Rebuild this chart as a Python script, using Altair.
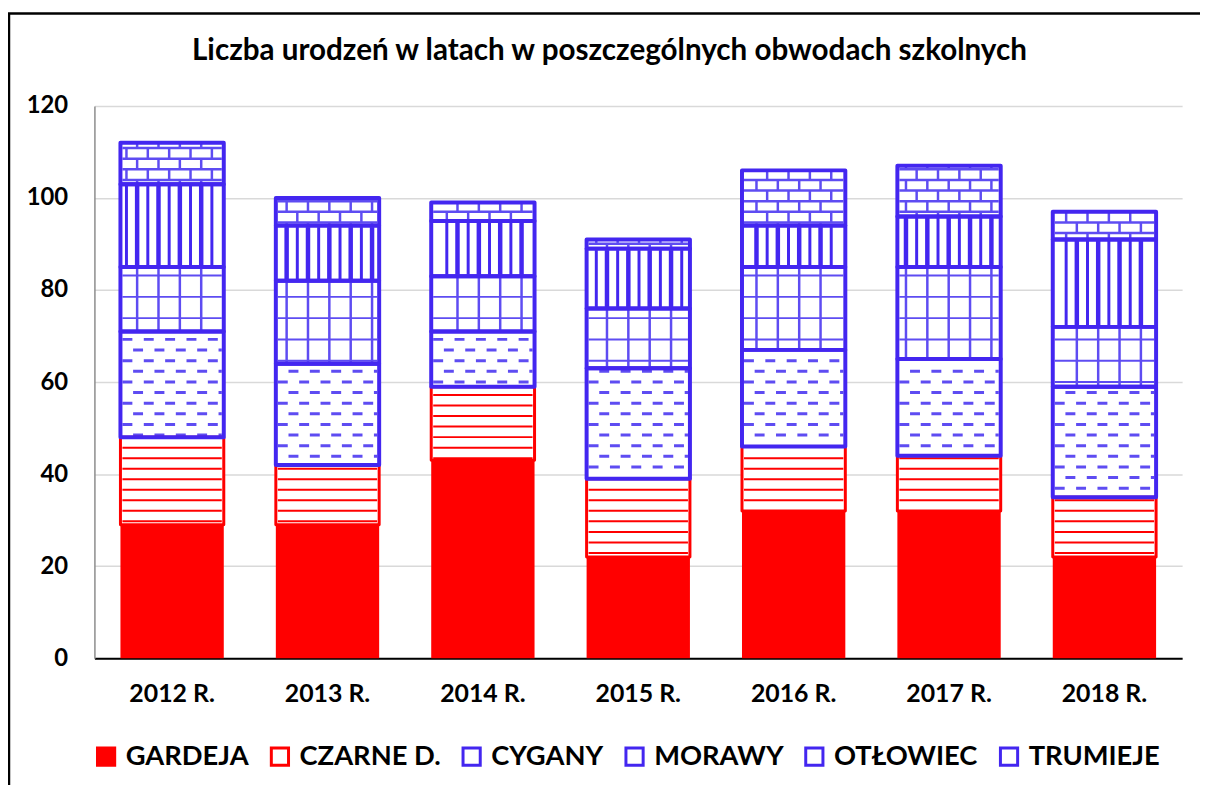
import math
import altair as alt
import pandas as pd

# ---------------- data ----------------
years = ["2012 R.", "2013 R.", "2014 R.", "2015 R.", "2016 R.", "2017 R.", "2018 R."]
districts = ["GARDEJA", "CZARNE D.", "CYGANY", "MORAWY", "OTŁOWIEC", "TRUMIEJE"]
gardeja = [29, 29, 43, 22, 32, 32, 22]
czarne = [19, 13, 16, 17, 14, 12, 13]
cygany = [23, 22, 12, 24, 21, 21, 24]
morawy = [14, 18, 12, 13, 18, 20, 13]
otlowiec = [18, 12, 12, 13, 9, 11, 19]
trumieje = [9, 6, 4, 2, 12, 11, 6]
y_ticks = [0, 20, 40, 60, 80, 100, 120]
title_text = "Liczba urodzeń w latach w poszczególnych obwodach szkolnych"

series = [gardeja, czarne, cygany, morawy, otlowiec, trumieje]

# ---------------- styles ----------------
RED = "#FF0000"
BLUE = "#4326F0"
LBLUE = "#5E4CF2"
FONT = "Lato"
W, H = 1095, 556
PAD_INNER = 0.335
fills = [RED, "#FFFFFF", "#FFFFFF", "#FFFFFF", "#FFFFFF", "#FFFFFF"]
strokes = [RED, RED, BLUE, BLUE, BLUE, BLUE]
outline_w = [0, 3, 4, 4, 4, 4]

# segments table
seg_rows = []
for i, yr in enumerate(years):
    base = 0
    for j, d in enumerate(districts):
        v = series[j][i]
        seg_rows.append(dict(year=yr, idx=i, district=d, start=base, end=base + v,
                             scol=strokes[j], sw=outline_w[j]))
        base += v
seg = pd.DataFrame(seg_rows)

# hatch decoration derived from the segments
step_px = W / 7
pxx = 1 / step_px
pxy = 120 / H
half = (1 - PAD_INNER) / 2

h_rows, d0_rows, d1_rows, v_rows = [], [], [], []


def hlines(y0, y1, sp_px, L, R, col, w, target, parity=None):
    sy = sp_px * pxy
    eps = 2.0 * pxy
    for k in range(int(math.floor(y0 / sy)), int(math.ceil(y1 / sy)) + 1):
        y = k * sy
        if y0 + eps < y < y1 - eps:
            row = dict(x=L, x2=R, y=y, col=col, w=w)
            if parity is None:
                target.append(row)
            else:
                (d0_rows if k % 2 == 0 else d1_rows).append(row)


def vlines(y0, y1, sp_px, L, R, col, widths, shift_px=0.0):
    for k in range(0, int(W / sp_px) + 2):
        x = (k * sp_px + shift_px) * pxx
        if L + 3 * pxx < x < R - 3 * pxx:
            v_rows.append(dict(x=x, y=y0 + 1.5 * pxy, y2=y1 - 1.5 * pxy, col=col,
                               w=widths[k % len(widths)]))


for _, r in seg.iterrows():
    c = r["idx"] + 0.5
    L, R = c - half + 2 * pxx, c + half - 2 * pxx
    y0, y1 = r["start"], r["end"]
    d = r["district"]
    if d == "CZARNE D.":
        hlines(y0, y1, 10.6, L, R, RED, 2, h_rows)
    elif d == "CYGANY":
        hlines(y0, y1, 10.7, L, R, LBLUE, 3, None, parity=True)
    elif d == "MORAWY":
        hlines(y0, y1, 21.4, L, R, LBLUE, 2, h_rows)
        vlines(y0, y1, 21.5, L, R, LBLUE, [2.5])
    elif d == "OTŁOWIEC":
        vlines(y0, y1, 10.75, L, R, BLUE, [4.5, 3])
    elif d == "TRUMIEJE":
        sy = 10.7 * pxy
        hlines(y0, y1, 10.7, L, R, LBLUE, 2.5, h_rows)
        for rr in range(int(math.floor(y0 / sy)), int(math.ceil(y1 / sy)) + 1):
            a, b = max(rr * sy, y0), min((rr + 1) * sy, y1)
            if b - a > 1.0 * pxy:
                for k in range(0, int(W / 21.5) + 2):
                    x = (k * 21.5 + (rr % 2) * 10.75) * pxx
                    if L + 3 * pxx < x < R - 3 * pxx:
                        v_rows.append(dict(x=x, y=a, y2=b, col=LBLUE, w=2.5))

h_df = pd.DataFrame(h_rows)
d0_df = pd.DataFrame(d0_rows)
d1_df = pd.DataFrame(d1_rows)
v_df = pd.DataFrame(v_rows)

# ---------------- chart ----------------
xband = alt.Scale(domain=years, paddingInner=PAD_INNER, paddingOuter=PAD_INNER / 2)
yscale = alt.Scale(domain=[0, 120], nice=False, zero=True)
qx = alt.Scale(domain=[0, 7], nice=False, zero=False)

y_axis = alt.Axis(values=y_ticks, labelFont=FONT, labelFontSize=24, labelFontWeight="bold",
                  labelColor="black", labelPadding=27, ticks=False,
                  domainColor="#8c8c8c", domainWidth=1.5,
                  gridColor="#d9d9d9", gridWidth=1.5)

legend_def = alt.Legend(
    title=None, orient="none", legendX=-2, legendY=H + 85, direction="horizontal",
    labelFont=FONT, labelFontSize=27.5, labelFontWeight="bold", labelColor="black",
    symbolType="square", symbolSize=300, symbolStrokeWidth=3, labelOffset=6,
    columnPadding=16, labelLimit=400,
)

bars = alt.Chart(seg).mark_bar(strokeWidth=0).encode(
    x=alt.X("year:N", scale=xband, sort=years, title=None,
            axis=alt.Axis(labelAngle=0, labelFont=FONT, labelFontSize=25, labelFontWeight="bold",
                          labelColor="black", labelPadding=24, ticks=False,
                          domainColor="black", domainWidth=2)),
    y=alt.Y("start:Q", scale=yscale, title=None, axis=y_axis),
    y2="end:Q",
    fill=alt.Fill("district:N", scale=alt.Scale(domain=districts, range=fills), legend=legend_def),
    stroke=alt.Stroke("district:N", scale=alt.Scale(domain=districts, range=strokes), legend=legend_def),
)


def hrule(df, **mk):
    return alt.Chart(df).mark_rule(**mk).encode(
        x=alt.X("x:Q", scale=qx, axis=None), x2="x2:Q",
        y=alt.Y("y:Q", scale=yscale, title=None, axis=y_axis),
        stroke=alt.Stroke("col:N", scale=None),
        strokeWidth=alt.StrokeWidth("w:Q", scale=None),
    )


hatch_h = hrule(h_df)
hatch_d0 = hrule(d0_df, strokeDash=[10, 11.5], strokeDashOffset=0)
hatch_d1 = hrule(d1_df, strokeDash=[10, 11.5], strokeDashOffset=10.75)
hatch_v = alt.Chart(v_df).mark_rule().encode(
    x=alt.X("x:Q", scale=qx, axis=None),
    y=alt.Y("y:Q", scale=yscale, title=None, axis=y_axis), y2="y2:Q",
    stroke=alt.Stroke("col:N", scale=None),
    strokeWidth=alt.StrokeWidth("w:Q", scale=None),
)

outline = alt.Chart(seg).mark_bar(fillOpacity=0, strokeJoin="round").encode(
    x=alt.X("year:N", scale=xband, sort=years, axis=None),
    y=alt.Y("start:Q", scale=yscale, title=None, axis=y_axis),
    y2="end:Q",
    stroke=alt.Stroke("scol:N", scale=None),
    strokeWidth=alt.StrokeWidth("sw:Q", scale=None),
)

frame_df = pd.DataFrame({"label": [title_text]})
frame_left = alt.Chart(frame_df).mark_rule(color="black", strokeWidth=2.5).encode(
    x=alt.value(-86), y=alt.value(-93), y2=alt.value(720))
frame_top = alt.Chart(frame_df).mark_rule(color="black", strokeWidth=2.5).encode(
    x=alt.value(-87), x2=alt.value(1200), y=alt.value(-93))
title_mark = alt.Chart(frame_df).mark_text(
    font=FONT, fontSize=29.8, fontWeight="bold", color="black", align="center", baseline="middle"
).encode(x=alt.value(518.5), y=alt.value(-55), text="label:N")

chart = alt.layer(
    bars, hatch_h, hatch_d0, hatch_d1, hatch_v, outline, frame_left, frame_top, title_mark
).resolve_scale(x="independent").properties(
    width=W, height=H,
    background="white",
    autosize=alt.AutoSizeParams(type="none"),
    padding={"left": 87, "top": 96, "right": 18, "bottom": 125},
).configure_view(stroke="transparent")

chart.save("out.html", embed_options={"renderer": "svg", "actions": False})
